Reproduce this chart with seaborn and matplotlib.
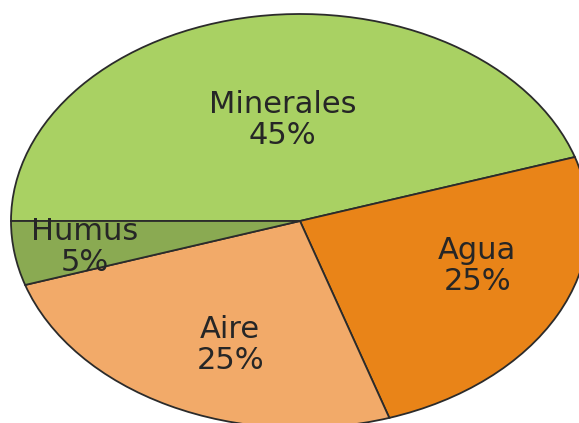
import numpy as np
import seaborn as sns
import matplotlib.pyplot as plt

# soil composition
componentes = ["Minerales", "Agua", "Aire", "Humus"]
porcentajes = [45, 25, 25, 5]
colores = ["#A9D163", "#E98418", "#F2AA69", "#8AAA52"]
# label placement: radius and angle shift from the wedge middle
dist_etiqueta = [0.49, 0.65, 0.645, 0.755]
giro_etiqueta = [-2, 7.5, 5, 0.5]

sns.set_theme(style="white")
plt.rcParams["font.family"] = ["DejaVu Sans"]

fig = plt.figure(figsize=(5.79, 4.23), dpi=100)
ax = fig.add_axes([0, 0, 1, 1])

wedges, _ = ax.pie(porcentajes, colors=colores, startangle=180, counterclock=False,
                   wedgeprops=dict(edgecolor="#2b2b2b", linewidth=1.3))
ax.set_aspect("auto")
ax.set_xlim(-300 / 289, 279 / 289)
ax.set_ylim(-202 / 207, 221 / 207)
ax.axis("off")

for w, nombre, pct, d, g in zip(wedges, componentes, porcentajes, dist_etiqueta, giro_etiqueta):
    ang = np.deg2rad((w.theta1 + w.theta2) / 2 + g)
    ax.text(d * np.cos(ang), d * np.sin(ang), f"{nombre}\n{pct}%",
            ha="center", va="center", fontsize=22, color="#262626", linespacing=1.08)

fig.savefig("out.png", dpi=100)
